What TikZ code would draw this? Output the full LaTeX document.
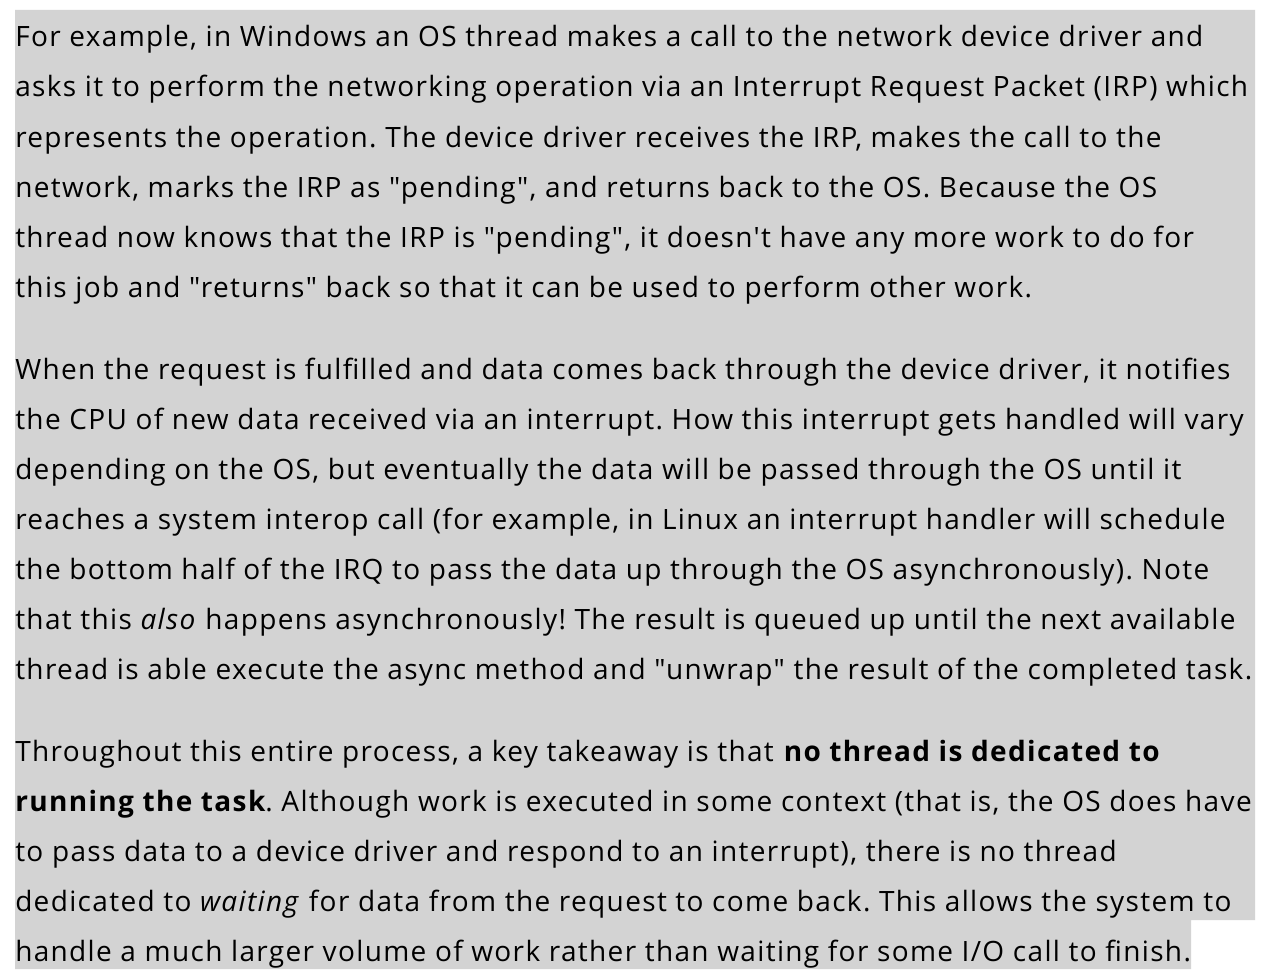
\documentclass[tikz,border=0pt]{standalone}
\usepackage{fontspec}
\newfontfamily\bodyfont{Open Sans}[LetterSpace=4.8]
\usetikzlibrary{positioning}
\definecolor{selgray}{RGB}{211,211,211}
\frenchspacing

\begin{document}
\begin{tikzpicture}[x=0.75pt, y=-0.75pt,
    textline/.style={anchor=base west, inner sep=0pt, font=\bodyfont\fontsize{21}{37.5}\selectfont}]
        % Fix the page size
        \useasboundingbox (0,0) rectangle (1266,974);
        % Draw the highlight
        \fill [selgray] (15,10) -- (1255,10) -- (1255,920) -- (1191,920) -- (1191,969) -- (15,969) -- cycle;

        % First paragraph
        \node (l1)  [textline] at (15,47)  {For example, in Windows an OS thread makes a call to the network device driver and};
        \node (l2)  [textline] at (15,97)  {asks it to perform the networking operation via an Interrupt Request Packet (IRP) which};
        \node (l3)  [textline] at (15,147) {represents the operation. The device driver receives the IRP, makes the call to the};
        \node (l4)  [textline] at (15,197) {network, marks the IRP as "pending", and returns back to the OS. Because the OS};
        \node (l5)  [textline] at (15,247) {thread now knows that the IRP is "pending", it doesn't have any more work to do for};
        \node (l6)  [textline] at (15,297) {this job and "returns" back so that it can be used to perform other work.};

        % Second paragraph
        \node (l7)  [textline] at (15,379) {When the request is fulfilled and data comes back through the device driver, it notifies};
        \node (l8)  [textline] at (15,429) {the CPU of new data received via an interrupt. How this interrupt gets handled will vary};
        \node (l9)  [textline] at (15,479) {depending on the OS, but eventually the data will be passed through the OS until it};
        \node (l10) [textline] at (15,529) {reaches a system interop call (for example, in Linux an interrupt handler will schedule};
        \node (l11) [textline] at (15,579) {the bottom half of the IRQ to pass the data up through the OS asynchronously). Note};
        \node (l12) [textline] at (15,629) {that this \textit{also} happens asynchronously! The result is queued up until the next available};
        \node (l13) [textline] at (15,679) {thread is able execute the async method and "unwrap" the result of the completed task.};

        % Third paragraph
        \node (l14) [textline] at (15,761) {Throughout this entire process, a key takeaway is that \textbf{no thread is dedicated to}};
        \node (l15) [textline] at (15,811) {\textbf{running the task}. Although work is executed in some context (that is, the OS does have};
        \node (l16) [textline] at (15,861) {to pass data to a device driver and respond to an interrupt), there is no thread};
        \node (l17) [textline] at (15,911) {dedicated to \textit{waiting} for data from the request to come back. This allows the system to};
        \node (l18) [textline] at (15,961) {handle a much larger volume of work rather than waiting for some I/O call to finish.};
    \end{tikzpicture}
\end{document}
